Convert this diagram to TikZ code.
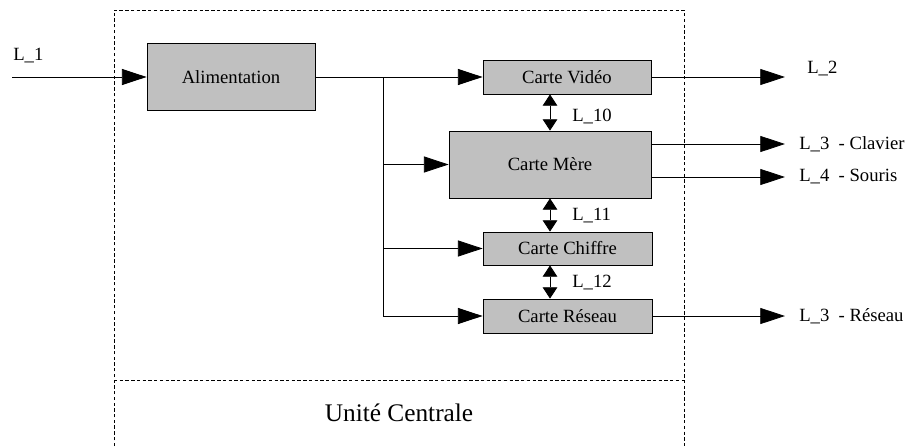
\documentclass[tikz,border=0pt]{standalone}
\usepackage{fontspec}
\setmainfont{Liberation Serif}
\usetikzlibrary{arrows.meta}
\begin{document}
\begin{tikzpicture}[x=0.75pt,y=-0.75pt,
  card/.style={draw=black,fill={rgb,255:red,192;green,192;blue,192},line width=0.6pt,inner sep=0pt,font=\fontsize{14}{16}\selectfont},
  wire/.style={line width=0.6pt},
  arr/.style={wire,-{Triangle[length=18.5pt,width=12pt]}},
  dbl/.style={wire,{Triangle[length=8.5pt,width=11pt]}-{Triangle[length=8.5pt,width=11pt]}},
  lbl/.style={anchor=west,inner sep=0pt,font=\fontsize{14}{16}\selectfont},
  frame/.style={line width=0.5pt,dash pattern=on 2.5pt off 1.8pt}]
\useasboundingbox (0,0) rectangle (909,446);
% frame
\coordinate (f1) at (114,446);
\coordinate (f2) at (114,10);
\coordinate (f3) at (684,10);
\coordinate (f4) at (684,446);
\coordinate (h1) at (114,380);
\coordinate (h2) at (684,380);
\draw[frame] (f1) -- (f2) -- (f3) -- (f4);
\draw[frame] (h1) -- (h2);
\node[font=\fontsize{19}{22}\selectfont] (uc) at (399,413) {Unité Centrale};
% cards
\node[card,minimum width=126pt,minimum height=50.25pt] (alim) at (231,77) {Alimentation};
\node[card,minimum width=126pt,minimum height=25.5pt] (video) at (567,77) {Carte Vidéo};
\node[card,minimum width=151.5pt,minimum height=50.25pt] (mere) at (550,164.5) {Carte Mère};
\node[card,minimum width=126.75pt,minimum height=24.75pt] (chiffre) at (567.5,248.5) {Carte Chiffre};
\node[card,minimum width=126.75pt,minimum height=25.5pt] (reseau) at (567.5,316) {Carte Réseau};
% input
\coordinate (in) at (12,77);
\node[lbl] (l1) at (13,56) {L\_1};
\draw[arr] (in) -- (alim.west);
% distribution
\coordinate (j1) at (383,77);
\coordinate (j4) at (383,316);
\draw[wire] (alim.east) -- (j1);
\draw[arr] (j1) -- (video.west);
\draw[wire] (j1) -- (j4);
\draw[arr] (j1 |- mere.west) -- (mere.west);
\draw[arr] (j1 |- chiffre.west) -- (chiffre.west);
\draw[arr] (j4) -- (reseau.west);
% buses
\draw[dbl] (mere.north |- video.south) -- (mere.north);
\draw[dbl] (mere.south) -- (mere.south |- chiffre.north);
\draw[dbl] (mere.south |- chiffre.south) -- (mere.south |- reseau.north);
\node[lbl] (l10) at (572,116) {L\_10};
\node[lbl] (l11) at (572,216) {L\_11};
\node[lbl] (l12) at (572,283) {L\_12};
% outputs
\coordinate (o2) at (785,77);
\coordinate (m3) at (651,144);
\coordinate (o3) at (785,144);
\coordinate (m4) at (651,177);
\coordinate (o4) at (785,177);
\coordinate (o5) at (785,316);
\draw[arr] (video.east) -- (o2);
\draw[arr] (m3) -- (o3);
\draw[arr] (m4) -- (o4);
\draw[arr] (reseau.east) -- (o5);
\node[lbl] (l2) at (807,69) {L\_2};
\node[lbl] (l3) at (799,144) {L\_3\ \ - Clavier};
\node[lbl] (l4) at (799,177) {L\_4\ \ - Souris};
\node[lbl] (l5) at (799,316) {L\_3\ \ - Réseau};
\end{tikzpicture}
\end{document}
